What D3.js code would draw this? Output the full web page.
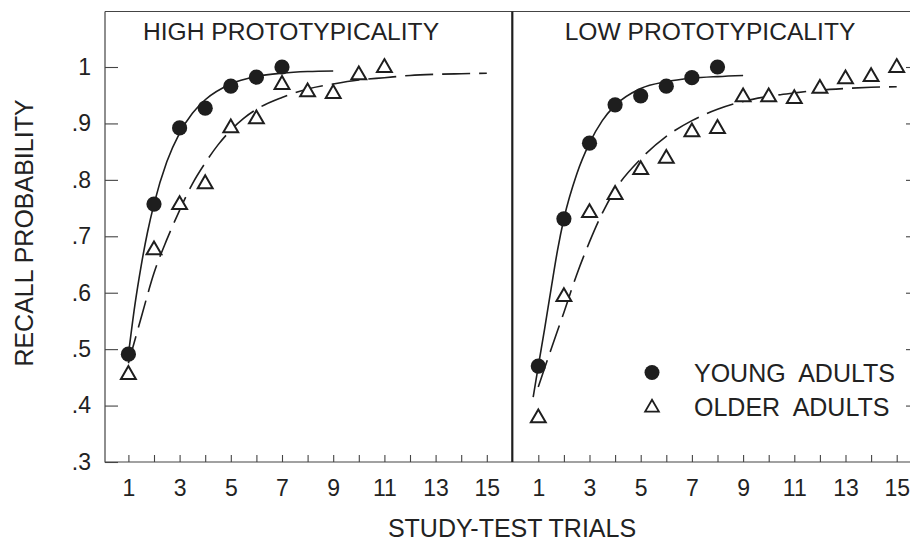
<!DOCTYPE html>
<html>
<head>
<meta charset="utf-8">
<script src="https://cdn.jsdelivr.net/npm/d3@7"></script>
<style>
  html, body { margin: 0; padding: 0; background: #fff; }
  svg { display: block; }
  text { font-family: "Liberation Sans", Arial, Helvetica, sans-serif; fill: #222; }
</style>
</head>
<body>
<svg id="chart" width="910" height="543"></svg>
<script>
// ---------- DATA ----------
const panels = ["HIGH PROTOTYPICALITY", "LOW PROTOTYPICALITY"];
const legendLabels = ["YOUNG  ADULTS", "OLDER  ADULTS"];
const xTicks = [1,2,3,4,5,6,7,8,9,10,11,12,13,14,15];
const yTicks = [0.3,0.4,0.5,0.6,0.7,0.8,0.9,1.0];

// observed points
const highYoungTrials = [1,2,3,4,5,6,7];
const highYoung = [0.491, 0.757, 0.892, 0.927, 0.966, 0.982, 1.0];
const highOlderTrials = [1,2,3,4,5,6,7,8,9,10,11];
const highOlder = [0.458, 0.679, 0.759, 0.796, 0.895, 0.911, 0.972, 0.959, 0.956, 0.989, 1.002];
const lowYoungTrials = [1,2,3,4,5,6,7,8];
const lowYoung = [0.470, 0.731, 0.865, 0.933, 0.949, 0.966, 0.981, 1.0];
const lowOlderTrials = [1,2,3,4,5,6,7,8,9,10,11,12,13,14,15];
const lowOlder = [0.381, 0.596, 0.745, 0.777, 0.821, 0.841, 0.888, 0.894, 0.950, 0.950, 0.947, 0.965, 0.982, 0.986, 1.002];

// fitted curves
const highYoungFitX = [1, 1.25, 1.5, 1.75, 2, 2.5, 3, 3.5, 4, 5, 6, 7, 8, 9];
const highYoungFitY = [0.49, 0.577, 0.648, 0.708, 0.757, 0.832, 0.883, 0.918, 0.942, 0.970, 0.983, 0.989, 0.992, 0.993];
const highOlderFitX = [1, 1.5, 2, 2.5, 3, 3.5, 4, 4.5, 5, 5.5, 6, 7, 8, 9, 10, 11, 12, 13, 14, 15];
const highOlderFitY = [0.475, 0.556, 0.635, 0.694, 0.746, 0.793, 0.830, 0.862, 0.888, 0.909, 0.925, 0.946, 0.961, 0.970, 0.977, 0.981, 0.985, 0.987, 0.988, 0.989];
const lowYoungFitX = [0.8, 1, 1.25, 1.5, 1.75, 2, 2.5, 3, 3.5, 4, 5, 6, 7, 8, 9];
const lowYoungFitY = [0.415, 0.47, 0.537, 0.607, 0.675, 0.731, 0.81, 0.865, 0.905, 0.932, 0.962, 0.974, 0.980, 0.983, 0.985];
const lowOlderFitX = [1, 1.5, 2, 2.5, 3, 3.5, 4, 5, 6, 7, 8, 9, 10, 11, 12, 13, 14, 15];
const lowOlderFitY = [0.433, 0.50, 0.565, 0.632, 0.69, 0.741, 0.782, 0.837, 0.877, 0.905, 0.925, 0.939, 0.948, 0.954, 0.959, 0.962, 0.964, 0.965];

// ---------- LAYOUT ----------
const svg = d3.select("#chart");
const frameL = 105, frameR = 913, frameT = 11.5, frameB = 462, divX = 512.3;
const unit = 25.6;
const y = d3.scaleLinear().domain([0.3, 1.0]).range([462, 67]);
const xLeft = d3.scaleLinear().domain([0, 16]).range([102.8, 102.8 + 16*unit]);
const xRight = d3.scaleLinear().domain([0, 16]).range([512.7, 512.7 + 16*unit]);
const ink = "#1e1e1e";
const fmtY = v => Math.abs(v - 1) < 1e-9 ? "1" : "." + Math.round(v*10);
const FONT = "'Liberation Sans', Arial, sans-serif";

// frame
svg.append("path")
  .attr("d", `M${frameL},${frameT}H${frameR}M${frameL},${frameT}V${frameB}H${frameR}`)
  .attr("fill", "none").attr("stroke", "#444").attr("stroke-width", 1.2);
svg.append("line").attr("x1", divX).attr("x2", divX).attr("y1", frameT).attr("y2", frameB)
  .attr("stroke", ink).attr("stroke-width", 2.2);

// left y axis (inward ticks)
const yAxisL = svg.append("g").attr("transform", `translate(${frameL},0)`)
  .call(d3.axisLeft(y).tickValues(yTicks).tickSize(-13).tickPadding(14).tickFormat(fmtY));
yAxisL.select(".domain").remove();
yAxisL.selectAll(".tick line").attr("stroke", "#444").attr("stroke-width", 1.1);
yAxisL.selectAll(".tick text").attr("font-size", 23).attr("fill", ink).style("font-family", FONT);

// right y axis (inward ticks)
const yAxisR = svg.append("g").attr("transform", `translate(${frameR},0)`)
  .call(d3.axisRight(y).tickValues(yTicks.filter(v => v > 0.35)).tickSize(-7).tickFormat(""));
yAxisR.select(".domain").remove();
yAxisR.selectAll(".tick line").attr("stroke", "#444").attr("stroke-width", 1.1);

// bottom axes
[xLeft, xRight].forEach(xs => {
  const g = svg.append("g").attr("transform", `translate(0,${frameB})`)
    .call(d3.axisBottom(xs).tickValues(xTicks).tickSize(-7).tickPadding(18)
      .tickFormat(d => d % 2 ? d : ""));
  g.select(".domain").remove();
  g.selectAll(".tick line").attr("stroke", "#444").attr("stroke-width", 1.1);
  g.selectAll(".tick text").attr("font-size", 23).attr("fill", ink).style("font-family", FONT);
});

// panel titles
svg.append("text").attr("x", 291).attr("y", 40).attr("text-anchor", "middle")
  .attr("font-size", 24.6).text(panels[0]);
svg.append("text").attr("x", 710).attr("y", 40).attr("text-anchor", "middle")
  .attr("font-size", 24.6).text(panels[1]);

// axis titles
svg.append("text").attr("x", 512).attr("y", 537).attr("text-anchor", "middle")
  .attr("font-size", 25).text("STUDY-TEST TRIALS");
svg.append("text").attr("transform", "translate(33,233) rotate(-90)")
  .attr("text-anchor", "middle").attr("font-size", 25).text("RECALL PROBABILITY");

// ---------- MARKS ----------
const tri = (cx, cy, h) => {
  const w = h * 0.55;
  return `M${cx},${cy - h*0.5}L${cx + w},${cy + h*0.45}L${cx - w},${cy + h*0.45}Z`;
};
const line = xs => d3.line().x(d => xs(d[0])).y(d => y(d[1])).curve(d3.curveMonotoneX);
const zip = (a, b) => a.map((v, i) => [v, b[i]]);

function drawPanel(xs, fitYX, fitYY, fitOX, fitOY, yT, yV, oT, oV) {
  svg.append("path").datum(zip(fitYX, fitYY)).attr("d", line(xs))
    .attr("fill", "none").attr("stroke", ink).attr("stroke-width", 1.6);
  svg.append("path").datum(zip(fitOX, fitOY)).attr("d", line(xs))
    .attr("fill", "none").attr("stroke", ink).attr("stroke-width", 1.6)
    .attr("stroke-dasharray", "28,9");
  svg.append("g").selectAll("path").data(zip(oT, oV)).join("path")
    .attr("d", d => tri(xs(d[0]), y(d[1]), 13.5))
    .attr("fill", "#fff").attr("stroke", ink).attr("stroke-width", 2)
    .attr("stroke-linejoin", "miter");
  svg.append("g").selectAll("circle").data(zip(yT, yV)).join("circle")
    .attr("cx", d => xs(d[0])).attr("cy", d => y(d[1])).attr("r", 7.6)
    .attr("fill", ink);
}
drawPanel(xLeft, highYoungFitX, highYoungFitY, highOlderFitX, highOlderFitY,
  highYoungTrials, highYoung, highOlderTrials, highOlder);
drawPanel(xRight, lowYoungFitX, lowYoungFitY, lowOlderFitX, lowOlderFitY,
  lowYoungTrials, lowYoung, lowOlderTrials, lowOlder);

// legend
svg.append("circle").attr("cx", 652).attr("cy", 372.5).attr("r", 7.5).attr("fill", ink);
svg.append("path").attr("d", tri(652, 406, 12.5)).attr("fill", "#fff")
  .attr("stroke", ink).attr("stroke-width", 1.8);
svg.append("text").attr("x", 694).attr("y", 382).attr("font-size", 25)
  .style("white-space", "pre").text(legendLabels[0]);
svg.append("text").attr("x", 694).attr("y", 415.5).attr("font-size", 25)
  .style("white-space", "pre").text(legendLabels[1]);
</script>
</body>
</html>
